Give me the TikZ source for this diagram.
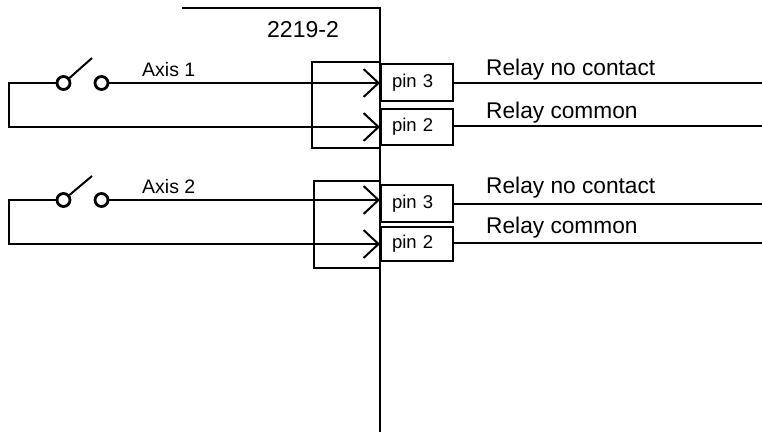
\documentclass[tikz,border=0pt]{standalone}
\usepackage{fontspec}
\setmainfont{Liberation Sans}
\usetikzlibrary{arrows.meta}
\tikzset{
  wire/.style={line width=2pt},
  arrowwire/.style={wire,-{Straight Barb[length=15pt,width=28pt,line width=2pt]}},
  pinbox/.style={draw,line width=2pt,anchor=north west,minimum width=72pt,
    text width=50pt,align=left,inner xsep=10pt,inner ysep=0pt,
    font=\fontsize{18.5}{20}\selectfont},
  contact/.style={draw,circle,line width=2.8pt,minimum size=13pt,inner sep=0pt},
  axislabel/.style={anchor=base west,inner sep=0pt,font=\fontsize{19.5}{22}\selectfont},
  relaylabel/.style={anchor=base west,inner sep=0pt,font=\fontsize{22.7}{26}\selectfont},
}
\begin{document}
\begin{tikzpicture}[x=1pt,y=-1pt]
\useasboundingbox (0,0) rectangle (762,432);
% module outline
\coordinate (mtl) at (182,8);
\coordinate (mtr) at (380,8);
\coordinate (mbot) at (380,432);
\coordinate (redge) at (762,0);
\draw[wire] (mtl) -- (mtr) -- (mbot);
\node[anchor=base west,inner sep=0pt,font=\fontsize{23}{26}\selectfont] (title) at (267,37) {2219-2};

% group 1
\draw[wire] (380,62) -| (312,148) -- (380,148);
\node[pinbox,minimum height=37pt] (p3a) at (380,63) {pin 3};
\node[pinbox,minimum height=36pt] (p2a) at (380,108) {pin 2};
\node[contact] (s1a) at (63.5,83) {};
\node[contact] (s1b) at (101.5,83) {};
\coordinate (b1) at (92,58);
\coordinate (l1) at (9,83);
\coordinate (o1a) at (452,83);
\coordinate (o1b) at (452,126);
\draw[wire] (s1a.40) -- (b1);
\draw[arrowwire] (s1b.east) -- (s1b -| p3a.west);
\draw[arrowwire] (s1a.west) -- (l1) |- (p2a.west);
\draw[wire] (o1a) -- (o1a -| redge);
\draw[wire] (o1b) -- (o1b -| redge);
\node[axislabel] (ax1) at (142,76) {Axis 1};
\node[relaylabel] (r1a) at (486,75) {Relay no contact};
\node[relaylabel] (r1b) at (486,118) {Relay common};

% group 2
\draw[wire] (380,181) -| (314,268) -- (380,268);
\node[pinbox,minimum height=37pt] (p3b) at (380,184) {pin 3};
\node[pinbox,minimum height=34pt] (p2b) at (380,226) {pin 2};
\node[contact] (s2a) at (63.5,200) {};
\node[contact] (s2b) at (101.5,200) {};
\coordinate (b2) at (92,176);
\coordinate (l2) at (9,200);
\coordinate (o2a) at (453,204);
\coordinate (o2b) at (453,243);
\draw[wire] (s2a.40) -- (b2);
\draw[arrowwire] (s2b.east) -- (s2b -| p3b.west);
\draw[arrowwire] (s2a.west) -- (l2) |- (p2b.west);
\draw[wire] (o2a) -- (o2a -| redge);
\draw[wire] (o2b) -- (o2b -| redge);
\node[axislabel] (ax2) at (142,193) {Axis 2};
\node[relaylabel] (r2a) at (486,193) {Relay no contact};
\node[relaylabel] (r2b) at (486,233) {Relay common};
\end{tikzpicture}
\end{document}
